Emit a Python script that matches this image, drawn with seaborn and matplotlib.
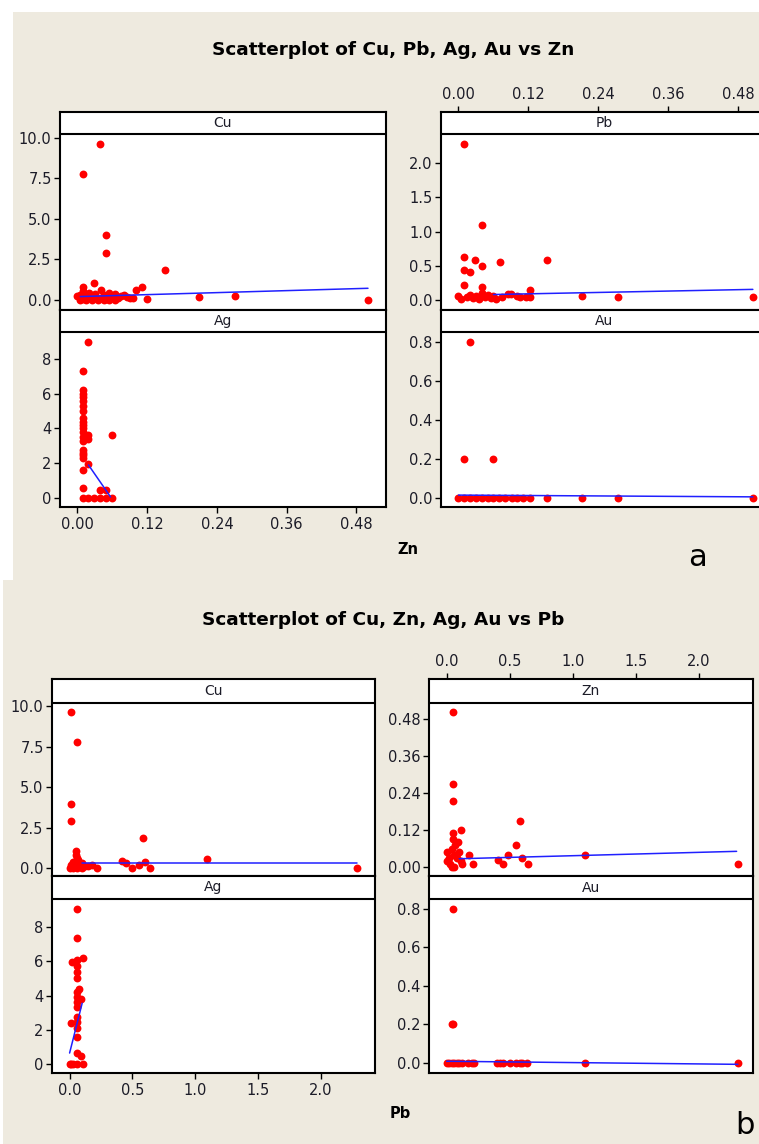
#
# Minitab-style matrix of scatterplots (Cu, Pb, Ag, Au vs Zn / Cu, Zn, Ag, Au vs Pb)
#

import matplotlib
matplotlib.use("Agg")
import matplotlib.pyplot as plt
from matplotlib.patches import Rectangle
from matplotlib.ticker import FixedLocator, FormatStrFormatter
import seaborn as sns

# ---------------- data: panel a (x = Zn) ----------------
a_cu_x = [0.000, 0.005, 0.005, 0.010, 0.010, 0.010, 0.010, 0.015, 0.015, 0.020, 0.020, 0.025,
          0.025, 0.029, 0.030, 0.035, 0.035, 0.038, 0.040, 0.040, 0.045, 0.045, 0.049, 0.049,
          0.050, 0.055, 0.055, 0.060, 0.065, 0.065, 0.070, 0.075, 0.080, 0.085, 0.090, 0.095,
          0.100, 0.111, 0.120, 0.150, 0.209, 0.271, 0.500]
a_cu_y = [0.25, 0.30, 0.00, 7.77, 0.82, 0.55, 0.05, 0.30, 0.00, 0.10, 0.45, 0.20,
          0.00, 1.03, 0.35, 0.05, 0.00, 9.63, 0.60, 0.15, 0.30, 0.00, 3.98, 2.87,
          0.05, 0.40, 0.00, 0.20, 0.35, 0.00, 0.10, 0.25, 0.30, 0.20, 0.15, 0.10,
          0.62, 0.82, 0.08, 1.84, 0.16, 0.27, 0.00]
a_cu_fit_x = [0.005, 0.500]
a_cu_fit_y = [0.21, 0.72]

a_pb_x = [0.000, 0.005, 0.010, 0.010, 0.010, 0.010, 0.015, 0.020, 0.020, 0.025, 0.029, 0.030,
          0.035, 0.040, 0.040, 0.040, 0.040, 0.045, 0.050, 0.055, 0.060, 0.065, 0.072, 0.075,
          0.085, 0.090, 0.100, 0.105, 0.115, 0.122, 0.122, 0.152, 0.212, 0.274, 0.505]
a_pb_y = [0.06, 0.02, 2.28, 0.63, 0.44, 0.22, 0.05, 0.41, 0.08, 0.03, 0.59, 0.06,
          0.02, 1.09, 0.50, 0.19, 0.10, 0.05, 0.08, 0.03, 0.06, 0.02, 0.55, 0.05,
          0.09, 0.09, 0.06, 0.04, 0.04, 0.14, 0.05, 0.59, 0.06, 0.04, 0.04]
a_pb_fit_x = [0.060, 0.505]
a_pb_fit_y = [0.08, 0.155]

a_ag_x = [0.010] * 21 + [0.019] * 5 + [0.029, 0.038, 0.038, 0.050, 0.050, 0.060, 0.060]
a_ag_y = [7.33, 6.20, 6.00, 5.80, 5.60, 5.30, 5.00, 4.60, 4.40, 4.20, 4.00, 3.80, 3.50, 3.30,
          2.75, 2.60, 2.45, 2.30, 1.63, 0.58, 0.00,
          8.96, 3.60, 3.40, 1.98, 0.00,
          0.00, 0.44, 0.00, 0.44, 0.00, 3.60, 0.00]
a_ag_fit_x = [0.019, 0.057]
a_ag_fit_y = [1.90, 0.06]

a_au_x = [0.020, 0.010, 0.060, 0.000, 0.010, 0.020, 0.030, 0.040, 0.050, 0.060, 0.069, 0.079,
          0.091, 0.100, 0.110, 0.122, 0.152, 0.212, 0.274, 0.505]
a_au_y = [0.80, 0.20, 0.20] + [0.0] * 17
a_au_fit_x = [0.000, 0.505]
a_au_fit_y = [0.015, 0.006]

# ---------------- data: panel b (x = Pb) ----------------
b_cu_x = [0.013, 0.058, 0.013, 0.013, 0.588, 1.095, 2.285, 0.417, 0.450, 0.500, 0.550, 0.600,
          0.640, 0.000, 0.010, 0.020, 0.030, 0.040, 0.050, 0.050, 0.060, 0.060, 0.070, 0.080,
          0.090, 0.100, 0.120, 0.150, 0.180, 0.220, 0.030, 0.060, 0.100]
b_cu_y = [9.63, 7.77, 3.98, 2.89, 1.88, 0.58, 0.00, 0.43, 0.31, 0.00, 0.16, 0.37,
          0.00, 0.00, 0.20, 0.05, 0.40, 0.10, 1.03, 0.80, 0.60, 0.30, 0.50, 0.20,
          0.05, 0.30, 0.15, 0.10, 0.20, 0.00, 0.00, 0.00, 0.00]
b_cu_fit_x = [0.10, 2.29]
b_cu_fit_y = [0.31, 0.31]

b_zn_x = [0.048, 0.048, 0.048, 0.115, 0.583, 0.548, 0.489, 0.596, 0.409, 0.449, 0.642, 1.099,
          2.310, 0.174, 0.209, 0.000, 0.000, 0.020, 0.030, 0.040, 0.050, 0.050, 0.060, 0.060,
          0.070, 0.080, 0.090, 0.100, 0.110, 0.120, 0.040]
b_zn_y = [0.503, 0.271, 0.213, 0.121, 0.150, 0.072, 0.038, 0.029, 0.022, 0.011, 0.011, 0.038,
          0.011, 0.038, 0.011, 0.050, 0.020, 0.030, 0.010, 0.060, 0.090, 0.110, 0.040, 0.000,
          0.070, 0.030, 0.080, 0.050, 0.020, 0.010, 0.000]
b_zn_fit_x = [0.10, 2.30]
b_zn_fit_y = [0.027, 0.051]

b_ag_x = [0.058, 0.058, 0.106, 0.021, 0.058, 0.058, 0.058, 0.058, 0.077, 0.058, 0.058, 0.087,
          0.058, 0.058, 0.013, 0.058, 0.058, 0.058, 0.058, 0.058, 0.087, 0.000, 0.013, 0.030,
          0.058, 0.106]
b_ag_y = [9.03, 7.36, 6.20, 5.97, 6.05, 5.70, 5.40, 5.00, 4.40, 4.20, 3.90, 3.80,
          3.60, 3.35, 2.42, 2.75, 2.45, 2.10, 1.60, 0.64, 0.45, 0.00, 0.00, 0.00,
          0.00, 0.00]
b_ag_fit_x = [0.00, 0.10]
b_ag_fit_y = [0.64, 3.55]

b_au_x = [0.048, 0.048, 0.040, 0.000, 0.020, 0.040, 0.060, 0.080, 0.100, 0.120, 0.170, 0.200,
          0.220, 0.400, 0.420, 0.450, 0.500, 0.550, 0.580, 0.600, 0.640, 1.100, 2.310]
b_au_y = [0.80, 0.20, 0.20] + [0.0] * 20
b_au_fit_x = [0.00, 2.31]
b_au_fit_y = [0.009, -0.007]

# ---------------- layout ----------------
W, H = 759, 1144
BEIGE = "#EEEADF"
TXT = "#1c1c28"

sns.set_style("white")
plt.rcParams["font.family"] = ["DejaVu Sans"]

fig = plt.figure(figsize=(W / 100, H / 100), dpi=100)
fig.patch.set_facecolor("white")

# beige backgrounds of the two pasted screenshots
fig.add_artist(Rectangle((13 / W, 1 - 580 / H), (W - 13) / W, 568 / H,
                         transform=fig.transFigure, facecolor=BEIGE, edgecolor="none", zorder=0))
fig.add_artist(Rectangle((3 / W, 0), (W - 3) / W, 564 / H,
                         transform=fig.transFigure, facecolor=BEIGE, edgecolor="none", zorder=0))


def px_axes(left, top, right, bottom):
    return fig.add_axes([left / W, 1 - bottom / H, (right - left) / W, (bottom - top) / H])


def facet(box, strip_px, name, x, y, fx, fy, xlim, ylim, yticks, yfmt,
          xticks=None, xfmt=None, xpos=None):
    ax = px_axes(*box)
    sns.scatterplot(x=x, y=y, ax=ax, color="#ff0000", s=32, linewidth=0, zorder=2)
    sns.lineplot(x=fx, y=fy, ax=ax, color="#2020ff", lw=1.1, sort=False,
                 estimator=None, zorder=2)
    ax.set_xlim(*xlim)
    ax.set_ylim(*ylim)
    ax.set_facecolor("white")
    for sp in ax.spines.values():
        sp.set_color("black")
        sp.set_linewidth(1.5)
        sp.set_zorder(5)
    ax.yaxis.set_major_locator(FixedLocator(yticks))
    ax.yaxis.set_major_formatter(FormatStrFormatter(yfmt))
    ax.tick_params(axis="y", left=True, length=4, width=1, color="black",
                   labelsize=10.5, labelcolor=TXT, pad=2)
    if xticks is None:
        ax.set_xticks([])
    else:
        ax.xaxis.set_major_locator(FixedLocator(xticks))
        ax.xaxis.set_major_formatter(FormatStrFormatter(xfmt))
        if xpos == "top":
            ax.tick_params(axis="x", top=True, bottom=False, labeltop=True, labelbottom=False)
        else:
            ax.tick_params(axis="x", bottom=True, top=False)
        ax.tick_params(axis="x", length=4, width=1, color="black",
                       labelsize=10.5, labelcolor=TXT, pad=3)
    ax.set_xlabel("")
    ax.set_ylabel("")
    # facet strip
    f = strip_px / (box[3] - box[1])
    ax.add_patch(Rectangle((0, 1 - f), 1, f, transform=ax.transAxes,
                           facecolor="white", edgecolor="none", zorder=3))
    ax.plot([0, 1], [1 - f, 1 - f], transform=ax.transAxes, color="black",
            lw=1.5, clip_on=False, zorder=4)
    ax.text(0.5, 1 - f / 2, name, transform=ax.transAxes, ha="center", va="center",
            fontsize=10, color=TXT, zorder=6)
    return ax


# panel a
xa = (-0.030, 0.531)
xt_a = [0.0, 0.12, 0.24, 0.36, 0.48]
facet((60, 112, 386, 310), 22, "Cu", a_cu_x, a_cu_y, a_cu_fit_x, a_cu_fit_y,
      xa, (-0.62, 11.6), [0, 2.5, 5, 7.5, 10], "%.1f")
facet((60, 310, 386, 507), 22, "Ag", a_ag_x, a_ag_y, a_ag_fit_x, a_ag_fit_y,
      xa, (-0.52, 10.82), [0, 2, 4, 6, 8], "%d", xt_a, "%.2f", "bottom")
facet((441, 112, 768, 310), 22, "Pb", a_pb_x, a_pb_y, a_pb_fit_x, a_pb_fit_y,
      xa, (-0.146, 2.745), [0, 0.5, 1.0, 1.5, 2.0], "%.1f", xt_a, "%.2f", "top")
facet((441, 310, 768, 507), 22, "Au", a_au_x, a_au_y, a_au_fit_x, a_au_fit_y,
      xa, (-0.046, 0.964), [0, 0.2, 0.4, 0.6, 0.8], "%.1f")

fig.text(393 / W, 1 - 50 / H, "Scatterplot of Cu, Pb, Ag, Au vs Zn", ha="center", va="center",
         fontsize=13.3, fontweight="bold", color="black")
fig.text(408 / W, 1 - 549 / H, "Zn", ha="center", va="center", fontsize=10.5,
         fontweight="bold", color="black")
fig.text(697 / W, 1 - 558 / H, "a", ha="center", va="center", fontsize=22, color="black")

# panel b
xb = (-0.14, 2.43)
xt_b = [0.0, 0.5, 1.0, 1.5, 2.0]
facet((52, 679, 375, 876), 24, "Cu", b_cu_x, b_cu_y, b_cu_fit_x, b_cu_fit_y,
      xb, (-0.49, 11.67), [0, 2.5, 5, 7.5, 10], "%.1f")
facet((52, 876, 375, 1073), 23, "Ag", b_ag_x, b_ag_y, b_ag_fit_x, b_ag_fit_y,
      xb, (-0.526, 10.98), [0, 2, 4, 6, 8], "%d", xt_b, "%.1f", "bottom")
facet((429, 679, 753, 876), 24, "Zn", b_zn_x, b_zn_y, b_zn_fit_x, b_zn_fit_y,
      xb, (-0.029, 0.61), [0, 0.12, 0.24, 0.36, 0.48], "%.2f", xt_b, "%.1f", "top")
facet((429, 876, 753, 1073), 23, "Au", b_au_x, b_au_y, b_au_fit_x, b_au_fit_y,
      xb, (-0.052, 0.971), [0, 0.2, 0.4, 0.6, 0.8], "%.1f")

fig.text(383 / W, 1 - 620 / H, "Scatterplot of Cu, Zn, Ag, Au vs Pb", ha="center", va="center",
         fontsize=13.3, fontweight="bold", color="black")
fig.text(400 / W, 1 - 1113 / H, "Pb", ha="center", va="center", fontsize=10.5,
         fontweight="bold", color="black")
fig.text(745 / W, 1 - 1126 / H, "b", ha="center", va="center", fontsize=22, color="black")

fig.savefig("out.png", dpi=100, facecolor=fig.get_facecolor())
